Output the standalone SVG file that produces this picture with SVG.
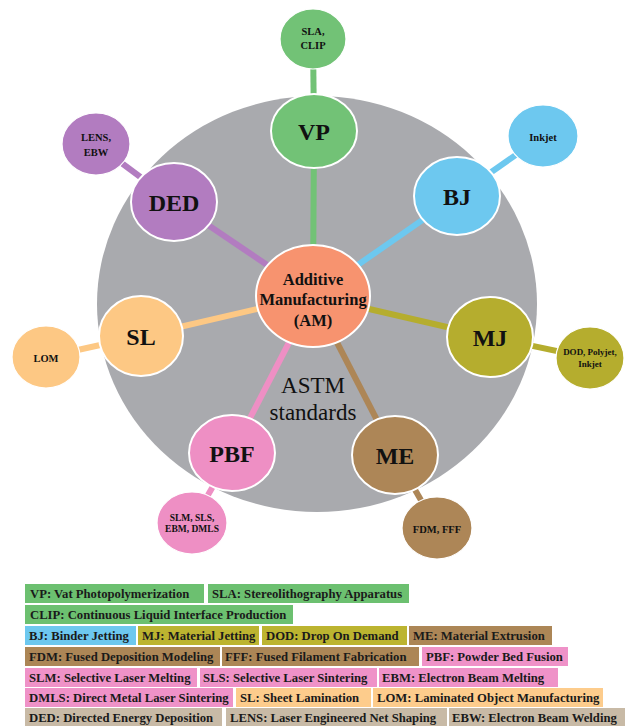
<svg xmlns="http://www.w3.org/2000/svg" width="625" height="726" viewBox="0 0 625 726" font-family="'Liberation Serif', 'Times New Roman', serif">
<style>
.lbl{font-family:"Liberation Serif","Times New Roman",serif;font-weight:bold;fill:#111111;text-anchor:middle;dominant-baseline:central}
.big{font-size:24px}
.sm{font-size:10.5px}
.leg{font-family:"Liberation Serif","Times New Roman",serif;font-weight:bold;font-size:12.7px;fill:#1a1a1a;dominant-baseline:central}
.main{stroke:#ffffff;stroke-width:2}
.sub{stroke:#ffffff;stroke-width:1.2}
.c{stroke-width:6;fill:none}
</style>
<rect width="625" height="726" fill="#ffffff"/>
<ellipse id="astm" cx="317" cy="304" rx="220" ry="208" fill="#a9aaae"/>
<g id="connectors">
<line class="c" stroke="#72c276" x1="313" y1="296" x2="314" y2="131"/>
<line class="c" stroke="#72c276" x1="314" y1="131" x2="313" y2="39"/>
<line class="c" stroke="#b27cc0" x1="313" y1="296" x2="174" y2="202"/>
<line class="c" stroke="#b27cc0" x1="174" y1="202" x2="96" y2="144"/>
<line class="c" stroke="#6dc8ef" x1="313" y1="296" x2="457" y2="196"/>
<line class="c" stroke="#6dc8ef" x1="457" y1="196" x2="543" y2="136"/>
<line class="c" stroke="#fdc884" x1="313" y1="296" x2="141" y2="336"/>
<line class="c" stroke="#fdc884" x1="141" y1="336" x2="46" y2="357"/>
<line class="c" stroke="#ee8fc4" x1="313" y1="296" x2="232" y2="453"/>
<line class="c" stroke="#ee8fc4" x1="232" y1="453" x2="192" y2="523"/>
<line class="c" stroke="#b5ad2e" x1="313" y1="296" x2="490" y2="337"/>
<line class="c" stroke="#b5ad2e" x1="490" y1="337" x2="590" y2="358"/>
<line class="c" stroke="#ad8657" x1="313" y1="296" x2="395" y2="455"/>
<line class="c" stroke="#ad8657" x1="395" y1="455" x2="437" y2="528"/>
</g>
<text class="lbl" x="313" y="385" style="font-size:23px;font-weight:normal">ASTM</text>
<text class="lbl" x="313" y="412" style="font-size:23px;font-weight:normal">standards</text>
<g id="am">
<ellipse class="main" cx="313" cy="296" rx="57" ry="51" fill="#f7936f"/>
<text class="lbl" x="313" y="279" style="font-size:16.5px">Additive</text>
<text class="lbl" x="313" y="299" style="font-size:16.5px">Manufacturing</text>
<text class="lbl" x="313" y="320" style="font-size:16.5px">(AM)</text>
</g>
<g id="vp">
<ellipse class="main" cx="314" cy="131" rx="43" ry="37" fill="#72c276"/>
<text class="lbl big" x="314" y="132">VP</text>
</g>
<g id="vp-sub">
<ellipse class="sub" cx="313" cy="39" rx="33" ry="30" fill="#72c276"/>
<text class="lbl sm" x="313" y="31">SLA,</text>
<text class="lbl sm" x="313" y="45">CLIP</text>
</g>
<g id="ded">
<ellipse class="main" cx="174" cy="202" rx="43" ry="39" fill="#b27cc0"/>
<text class="lbl big" x="174" y="203">DED</text>
</g>
<g id="ded-sub">
<ellipse class="sub" cx="96" cy="144" rx="34" ry="31" fill="#b27cc0"/>
<text class="lbl sm" x="96" y="137">LENS,</text>
<text class="lbl sm" x="96" y="152">EBW</text>
</g>
<g id="bj">
<ellipse class="main" cx="457" cy="196" rx="43" ry="39" fill="#6dc8ef"/>
<text class="lbl big" x="457" y="197">BJ</text>
</g>
<g id="bj-sub">
<ellipse class="sub" cx="543" cy="136" rx="35" ry="31" fill="#6dc8ef"/>
<text class="lbl sm" x="543" y="137">Inkjet</text>
</g>
<g id="sl">
<ellipse class="main" cx="141" cy="336" rx="42" ry="40" fill="#fdc884"/>
<text class="lbl big" x="141" y="337">SL</text>
</g>
<g id="sl-sub">
<ellipse class="sub" cx="46" cy="357" rx="34" ry="31" fill="#fdc884"/>
<text class="lbl sm" x="46" y="358">LOM</text>
</g>
<g id="pbf">
<ellipse class="main" cx="232" cy="453" rx="43" ry="38" fill="#ee8fc4"/>
<text class="lbl big" x="232" y="454">PBF</text>
</g>
<g id="pbf-sub">
<ellipse class="sub" cx="192" cy="523" rx="35" ry="31" fill="#ee8fc4"/>
<text class="lbl" x="192" y="518" style="font-size:9.5px">SLM, SLS,</text>
<text class="lbl" x="192" y="529" style="font-size:9.5px">EBM, DMLS</text>
</g>
<g id="mj">
<ellipse class="main" cx="490" cy="337" rx="43" ry="40" fill="#b5ad2e"/>
<text class="lbl big" x="490" y="338">MJ</text>
</g>
<g id="mj-sub">
<ellipse class="sub" cx="590" cy="358" rx="34" ry="31" fill="#b5ad2e"/>
<text class="lbl" x="590" y="352" style="font-size:9px">DOD, Polyjet,</text>
<text class="lbl" x="590" y="364" style="font-size:9px">Inkjet</text>
</g>
<g id="me">
<ellipse class="main" cx="395" cy="455" rx="43" ry="39" fill="#ad8657"/>
<text class="lbl big" x="395" y="456">ME</text>
</g>
<g id="me-sub">
<ellipse class="sub" cx="437" cy="528" rx="35" ry="31" fill="#ad8657"/>
<text class="lbl sm" x="437" y="529">FDM, FFF</text>
</g>
<g id="legend">
<g fill="#6cc070">
<rect x="25" y="584" width="179" height="19"/>
<rect x="208" y="584" width="201" height="19"/>
<rect x="25" y="605" width="268" height="19"/>
</g>
<rect x="25" y="626" width="111" height="19" fill="#6dc8ef"/>
<rect x="138" y="626" width="121" height="19" fill="#bcb430"/>
<rect x="262" y="626" width="145" height="19" fill="#bcb430"/>
<g fill="#ac8656">
<rect x="409" y="626" width="143" height="19"/>
<rect x="25" y="647" width="195" height="19"/>
<rect x="222" y="647" width="197" height="19"/>
</g>
<g fill="#ef92c8">
<rect x="422" y="647" width="146" height="19"/>
<rect x="25" y="668" width="172" height="19"/>
<rect x="200" y="668" width="177" height="19"/>
<rect x="379" y="668" width="179" height="19"/>
<rect x="25" y="688" width="208" height="19"/>
</g>
<g fill="#fdcc8c">
<rect x="236" y="688" width="135" height="19"/>
<rect x="373" y="688" width="230" height="19"/>
</g>
<g fill="#c8baa6">
<rect x="25" y="708" width="197" height="18"/>
<rect x="226" y="708" width="221" height="18"/>
<rect x="449" y="708" width="176" height="18"/>
</g>
<text class="leg" x="30" y="594">VP: Vat Photopolymerization</text>
<text class="leg" x="212" y="594">SLA: Stereolithography Apparatus</text>
<text class="leg" x="30" y="615">CLIP: Continuous Liquid Interface Production</text>
<text class="leg" x="29" y="636">BJ: Binder Jetting</text>
<text class="leg" x="142" y="636">MJ: Material Jetting</text>
<text class="leg" x="266" y="636">DOD: Drop On Demand</text>
<text class="leg" x="413" y="636">ME: Material Extrusion</text>
<text class="leg" x="29" y="657">FDM: Fused Deposition Modeling</text>
<text class="leg" x="225" y="657">FFF: Fused Filament Fabrication</text>
<text class="leg" x="426" y="657">PBF: Powder Bed Fusion</text>
<text class="leg" x="29" y="678">SLM: Selective Laser Melting</text>
<text class="leg" x="203" y="678">SLS: Selective Laser Sintering</text>
<text class="leg" x="382" y="678">EBM: Electron Beam Melting</text>
<text class="leg" x="29" y="698">DMLS: Direct Metal Laser Sintering</text>
<text class="leg" x="240" y="698">SL: Sheet Lamination</text>
<text class="leg" x="377" y="698">LOM: Laminated Object Manufacturing</text>
<text class="leg" x="29" y="718">DED: Directed Energy Deposition</text>
<text class="leg" x="230" y="718">LENS: Laser Engineered Net Shaping</text>
<text class="leg" x="452" y="718">EBW: Electron Beam Welding</text>
</g>
</svg>
